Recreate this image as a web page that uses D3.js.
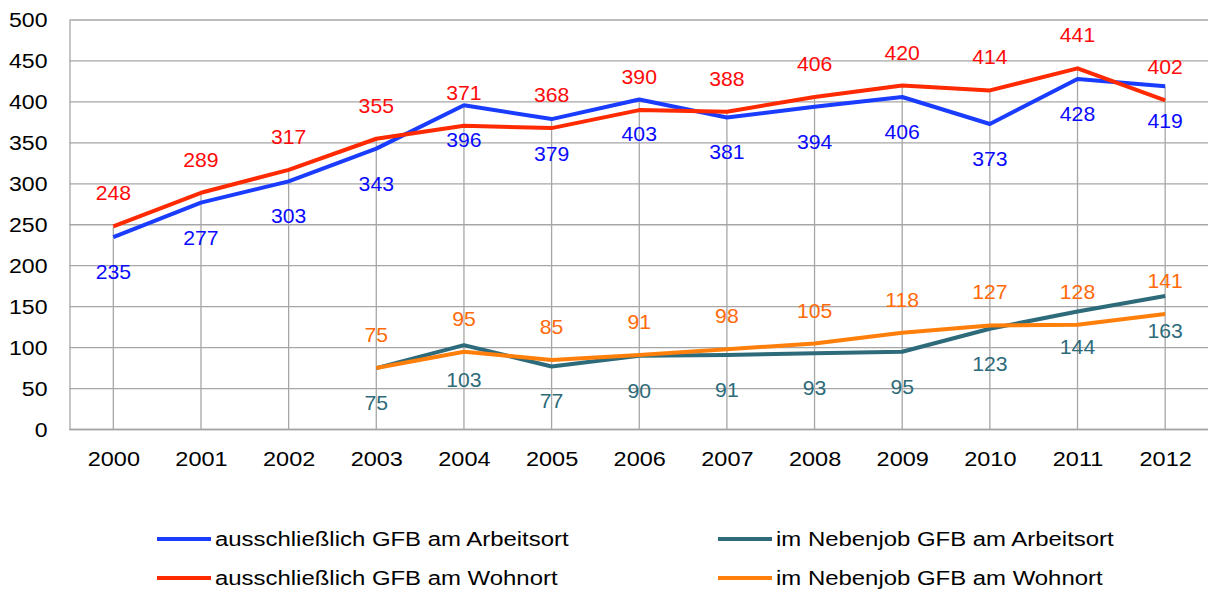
<!DOCTYPE html>
<html>
<head>
<meta charset="utf-8">
<script src="https://cdn.jsdelivr.net/npm/d3@7"></script>
<style>
  body { margin: 0; background: #fff; }
  text { font-family: "Liberation Sans", Arial, sans-serif; }
</style>
</head>
<body>
<div id="chart"></div>
<script>
// categories and series values
let years = ["2000","2001","2002","2003","2004","2005","2006","2007","2008","2009","2010","2011","2012"]
let arbeitsortAusschl = [235,277,303,343,396,379,403,381,394,406,373,428,419]
let wohnortAusschl    = [248,289,317,355,371,368,390,388,406,420,414,441,402]
let arbeitsortNeben   = [null,null,null,75,103,77,90,91,93,95,123,144,163]
let wohnortNeben      = [null,null,null,75,95,85,91,98,105,118,127,128,141]
let yTicks = [0,50,100,150,200,250,300,350,400,450,500]

let series = [
  {name: "ausschließlich GFB am Arbeitsort", values: arbeitsortAusschl, line: "#1a3cff", label: "#0a0aff", pos: "below"},
  {name: "ausschließlich GFB am Wohnort", values: wohnortAusschl, line: "#ff2a00", label: "#ff0a0a", pos: "above"},
  {name: "im Nebenjob GFB am Arbeitsort", values: arbeitsortNeben, line: "#2e6b7a", label: "#2e6b7a", pos: "below"},
  {name: "im Nebenjob GFB am Wohnort", values: wohnortNeben, line: "#ff7f0a", label: "#ff6a0a", pos: "above"}
]

var width = 1208, height = 591

// the original text is a bit wider than Arial, stretch it horizontally
function stretch(sel, sx) {
  sel.each(function() {
    let t = d3.select(this)
    let tx = +t.attr("x") || 0, ty = +t.attr("y") || 0
    t.attr("x", 0).attr("y", 0)
     .attr("transform", `translate(${tx},${ty}) scale(${sx},1)`)
  })
}

var svg = d3.select("#chart")
  .append("svg")
    .attr("width", width)
    .attr("height", height)

var x = d3.scalePoint()
  .domain(years)
  .range([69.5, 1209])
  .padding(0.5)

var y = d3.scaleLinear()
  .domain([0, 500])
  .range([429.5, 20])

// horizontal gridlines
svg.append("g")
  .selectAll("line")
  .data(yTicks)
  .join("line")
  .attr("x1", 69.5)
  .attr("x2", 1209)
  .attr("y1", d => y(d))
  .attr("y2", d => y(d))
  .attr("stroke", "#a6a6a6")
  .attr("stroke-width", 1.3)

// drop lines from the highest point to the axis
svg.append("g")
  .selectAll("line")
  .data(years)
  .join("line")
  .attr("x1", d => x(d))
  .attr("x2", d => x(d))
  .attr("y1", (d, i) => y(d3.max(series, s => s.values[i])))
  .attr("y2", y(0))
  .attr("stroke", "#a6a6a6")
  .attr("stroke-width", 1.3)

// y axis
let yAxis = svg.append("g")
  .attr("transform", "translate(69.5,0)")
  .call(d3.axisLeft(y).tickValues(yTicks).tickSize(0).tickPadding(22))
yAxis.select(".domain").attr("stroke", "#a6a6a6").attr("stroke-width", 1.3)
yAxis.selectAll("text").style("font-size", "21px").attr("fill", "#000").call(stretch, 1.1)

// x axis
let xAxis = svg.append("g")
  .attr("transform", `translate(0, ${y(0)})`)
  .call(d3.axisBottom(x).tickSize(0).tickPadding(22))
xAxis.select(".domain").attr("d", `M69.5,0H1209`).attr("stroke", "#a6a6a6").attr("stroke-width", 1.3)
xAxis.selectAll("text").style("font-size", "21px").attr("fill", "#000").call(stretch, 1.12)

// lines
var line = d3.line()
  .defined(d => d.v != null)
  .x(d => x(d.year))
  .y(d => y(d.v))

series.forEach(s => {
  let pts = years.map((yr, i) => ({year: yr, v: s.values[i]}))
  svg.append("path")
    .datum(pts)
    .attr("fill", "none")
    .attr("stroke", s.line)
    .attr("stroke-width", 4)
    .attr("stroke-linejoin", "round")
    .attr("d", line)
})

// data labels
series.forEach(s => {
  let pts = years.map((yr, i) => ({year: yr, v: s.values[i]})).filter(d => d.v != null)
  svg.append("g")
    .selectAll("text")
    .data(pts)
    .join("text")
    .attr("x", d => x(d.year))
    .attr("y", d => y(d.v) + (s.pos == "above" ? -33 : 35))
    .attr("dy", "0.35em")
    .attr("text-anchor", "middle")
    .attr("fill", s.label)
    .style("font-size", "20px")
    .text(d => d.v)
    .call(stretch, 1.06)
})

// legend
let legendPos = [[157, 539], [157, 578], [718, 539], [718, 578]]
let legend = svg.append("g")
  .selectAll("g")
  .data(series)
  .join("g")
  .attr("transform", (d, i) => `translate(${legendPos[i][0]}, ${legendPos[i][1]})`)

legend.append("line")
  .attr("x1", 0)
  .attr("x2", 54)
  .attr("stroke", d => d.line)
  .attr("stroke-width", 4)

legend.append("text")
  .attr("x", 58)
  .attr("dy", "0.35em")
  .style("font-size", "21px")
  .attr("fill", "#000")
  .text(d => d.name)
  .call(stretch, 1.14)
</script>
</body>
</html>
